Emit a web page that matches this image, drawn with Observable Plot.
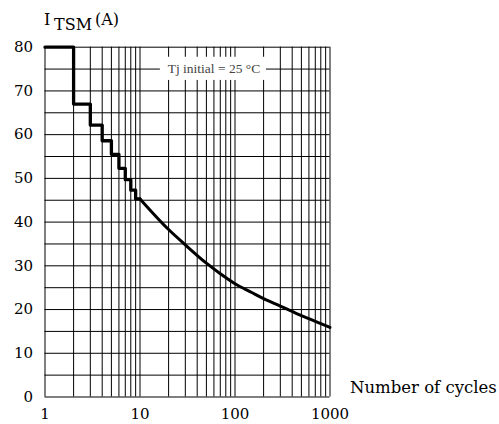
<!DOCTYPE html>
<html><head><meta charset="utf-8">
<script src="https://cdn.jsdelivr.net/npm/d3@7"></script>
<script src="https://cdn.jsdelivr.net/npm/@observablehq/plot@0.6"></script>
<style>body{margin:0;background:#fff}</style>
</head><body><div id="chart"></div>
<script>
// Step region (1..10 cycles)
const stepCycles = [1, 2, 3, 4, 5, 6, 7, 8, 9, 10];
const stepCurrent = [80, 67, 62.2, 58.6, 55.5, 52.3, 49.7, 47.3, 45.3, 45.3];
// Smooth region (10..1000 cycles)
const curveCycles = [10, 20, 30, 50, 70, 100, 150, 200, 300, 500, 700, 1000];
const curveCurrent = [45.3, 38.3, 34.8, 30.6, 28.2, 25.9, 23.9, 22.5, 20.8, 18.6, 17.3, 15.9];
// Grid and ticks
const gridCycles = [1,2,3,4,5,6,7,8,9,10,20,30,40,50,60,70,80,90,100,200,300,400,500,600,700,800,900,1000];
const gridCurrent = [0,5,10,15,20,25,30,35,40,45,50,55,60,65,70,75,80];
const xTicks = [1, 10, 100, 1000];
const yTicks = [0, 10, 20, 30, 40, 50, 60, 70, 80];
// Annotation
const noteText = "Tj initial = 25 °C";
const noteX = 60, noteY = 75;
const noteBox = {x1: 16.4, x2: 214, y1: 72.4, y2: 77.7};
const titleMain = "I", titleSub = "TSM", titleUnit = "(A)";
const xTitle = "Number of cycles";

const step = stepCycles.map((c, i) => ({c, v: stepCurrent[i]}));
const curve = curveCycles.map((c, i) => ({c, v: curveCurrent[i]}));

const chart = Plot.plot({
  width: 499, height: 424,
  marginLeft: 44.5, marginRight: 169.5, marginTop: 46.7, marginBottom: 27.5,
  style: {fontFamily: "DejaVu Serif", fontSize: "15px", color: "#000", background: "#fff"},
  x: {type: "log", domain: [1, 1000], ticks: xTicks, tickFormat: d => String(d), tickSize: 0, tickPadding: 11, label: null},
  y: {domain: [0, 80], ticks: yTicks, tickSize: 0, tickPadding: 12, label: null},
  marks: [
    Plot.ruleX(gridCycles, {stroke: "#000", strokeWidth: 1}),
    Plot.ruleY(gridCurrent, {stroke: "#000", strokeWidth: 1}),
    Plot.rect([noteBox], {x1: "x1", x2: "x2", y1: "y1", y2: "y2", fill: "#fff"}),
    Plot.text([{x: noteX, y: noteY}], {x: "x", y: "y", text: () => noteText, fontFamily: "Liberation Serif", fontSize: 13.5, fill: "#444"}),
    Plot.line(step, {x: "c", y: "v", curve: "step-after", stroke: "#000", strokeWidth: 3.3}),
    Plot.line(curve, {x: "c", y: "v", curve: "monotone-x", stroke: "#000", strokeWidth: 3})
  ]
});

const svg = d3.select(chart);
const t = svg.append("g").attr("font-family", "DejaVu Serif").attr("font-size", 16).attr("fill", "#000").attr("text-anchor", "start");
t.append("text").attr("x", 44).attr("y", 25).text(titleMain);
t.append("text").attr("x", 54).attr("y", 30).text(titleSub);
t.append("text").attr("x", 95).attr("y", 25).text(titleUnit);
svg.append("text").attr("x", 350).attr("y", 393).attr("text-anchor", "start").attr("font-family", "DejaVu Serif").attr("font-size", 16.5).attr("fill", "#000").text(xTitle);

document.getElementById("chart").appendChild(chart);
</script>
</body></html>
